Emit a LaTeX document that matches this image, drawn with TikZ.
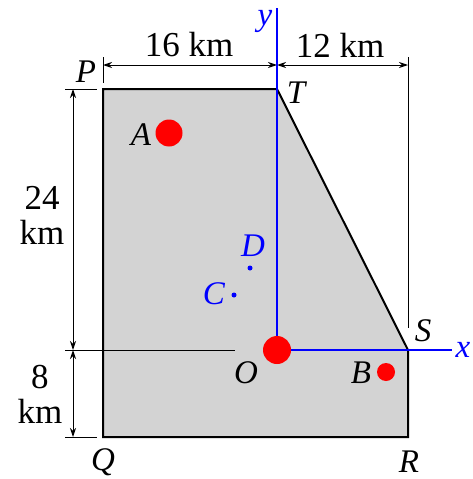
\documentclass[tikz,border=0pt]{standalone}
\usepackage{fontspec}
\setmainfont{Liberation Serif}
\usetikzlibrary{arrows.meta}
\begin{document}
\begin{tikzpicture}[x=1pt,y=-1pt,
  lab/.style={font=\fontsize{33}{35}\selectfont\itshape, inner sep=0pt},
  dimtxt/.style={font=\fontsize{35}{33}\selectfont, inner sep=0pt, align=center},
  dimarrow/.style={line width=1pt, {Stealth[length=9pt,width=6pt]}-{Stealth[length=9pt,width=6pt]}},
  ext/.style={line width=1pt},
  axisline/.style={blue, line width=2pt},
  dot/.style={circle, fill=red, inner sep=0pt}]
\useasboundingbox (0,0) rectangle (473,479);
% corners
\coordinate (P) at (103,89);
\coordinate (T) at (277,89);
\coordinate (S) at (408,350);
\coordinate (R) at (408,437);
\coordinate (Q) at (103,437);
\coordinate (O) at (277,350);
% region
\draw[line width=2pt, fill={rgb,255:red,211;green,211;blue,211}, line join=miter] (P) -- (T) -- (S) -- (R) -- (Q) -- cycle;
% extension lines
\coordinate (eP1) at (103,57); \coordinate (eP2) at (103,83);
\coordinate (eR1) at (408,57); \coordinate (eR2) at (408,328);
\coordinate (eT1) at (65,89);  \coordinate (eT2) at (97,89);
\coordinate (eO1) at (65,350); \coordinate (eO2) at (235,350);
\coordinate (eQ1) at (65,437); \coordinate (eQ2) at (97,437);
\draw[ext] (eP1) -- (eP2);
\draw[ext] (eR1) -- (eR2);
\draw[ext] (eT1) -- (eT2);
\draw[ext] (eO1) -- (eO2);
\draw[ext] (eQ1) -- (eQ2);
% dimension arrows
\coordinate (d1) at (103,65); \coordinate (d2) at (277,65); \coordinate (d3) at (408,65);
\coordinate (v1) at (73,89); \coordinate (v2) at (73,350); \coordinate (v3) at (73,437);
\draw[dimarrow] (d1) -- (d2);
\draw[dimarrow] (d2) -- (d3);
\draw[dimarrow] (v1) -- (v2);
\draw[dimarrow] (v2) -- (v3);
\node[dimtxt] (k16) at (189,45) {16 km};
\node[dimtxt] (k12) at (340,45) {12 km};
\node[dimtxt] (k24) at (42,215) {24\\[2pt]km};
\node[dimtxt] (k8) at (40,394) {8\\[2pt]km};
% axes
\coordinate (ytop) at (277,8);
\coordinate (xend) at (452,350);
\draw[axisline] (ytop) -- (O) -- (xend);
\node[lab, text=blue] (ylab) at (265,21) {y};
\node[lab, text=blue] (xlab) at (463,350) {x};
% points
\node[dot, minimum size=27pt] (A) at (169,133) {};
\node[dot, minimum size=28pt] (Odot) at (277,350) {};
\node[dot, minimum size=18pt] (B) at (386,372) {};
\node[circle, fill=blue, inner sep=0pt, minimum size=5pt] (C) at (234,295) {};
\node[circle, fill=blue, inner sep=0pt, minimum size=5pt] (D) at (250,268) {};
% labels
\node[lab] (Alab) at (141,135) {A};
\node[lab] (Olab) at (246,373) {O};
\node[lab] (Blab) at (361,373) {B};
\node[lab, text=blue] (Clab) at (214,294) {C};
\node[lab, text=blue] (Dlab) at (253,246) {D};
\node[lab] (Plab) at (86,72) {P};
\node[lab] (Tlab) at (296,93) {T};
\node[lab] (Slab) at (423,331) {S};
\node[lab] (Qlab) at (103,462) {Q};
\node[lab] (Rlab) at (409,462) {R};
\end{tikzpicture}
\end{document}
